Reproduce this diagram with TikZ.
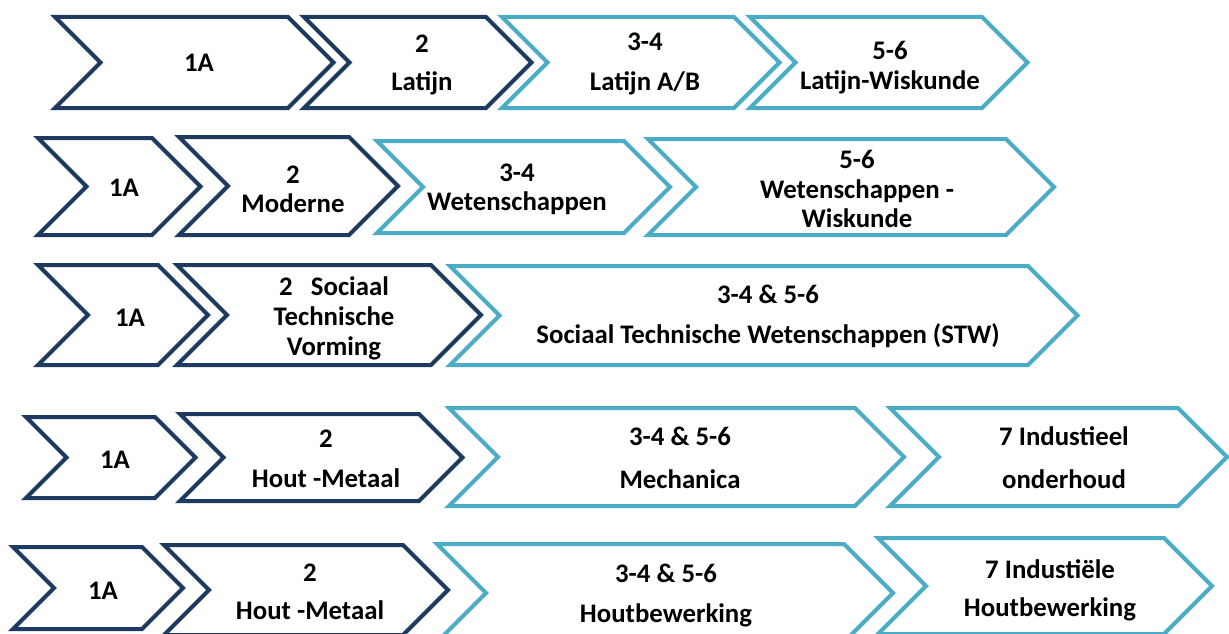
\documentclass[tikz,border=0pt]{standalone}
\usepackage{fontspec}
\setmainfont{Carlito}
\usetikzlibrary{positioning}
\definecolor{navy}{HTML}{1F3A60}
\definecolor{aqua}{HTML}{4BACC6}
% #1 colour, #2 left x, #3 right x, #4 top y, #5 bottom y
\newcommand\chevbox[5]{%
  \pgfmathsetmacro\hh{(#5-#4)/2}%
  \draw[#1,line width=4pt] (#2,#4) -- (#3,#4) -- (#3+\hh,#4+\hh) -- (#3,#5)
     -- (#2,#5) -- (#2+\hh,#4+\hh) -- cycle;}

\begin{document}
\begin{tikzpicture}[x=1pt,y=-1pt,
    lbl/.style={font={\bfseries\fontsize{26.8}{#1}\selectfont},align=center,inner sep=0pt},
    lbl/.default=38]
  \useasboundingbox (0,0) rectangle (1229,634);
  \clip (0,0) rectangle (1229,634);
  % row 1: Latijn
  \chevbox{navy}{55}{288}{17}{108}
  \chevbox{navy}{304}{486}{17}{108}
  \chevbox{aqua}{502}{734}{17}{108}
  \chevbox{aqua}{750}{982}{17}{108}
  \node[lbl] (lat1) at (199,63) {1A};
  \node[lbl] (lat2) at (422,65) {2\\Latijn};
  \node[lbl=40] (lat3) at (645,64) {3-4\\Latijn A/B};
  \node[lbl=30] (lat4) at (890,68) {5-6\\Latijn-Wiskunde};
  % row 2: Moderne
  \chevbox{navy}{38}{152}{138}{235}
  \chevbox{navy}{179}{349}{137}{235}
  \chevbox{aqua}{377}{624}{141}{233}
  \chevbox{aqua}{648}{1006}{139}{235}
  \node[lbl] (mod1) at (124,188) {1A};
  \node[lbl=29] (mod2) at (293,189) {2\\Moderne};
  \node[lbl=29] (mod3) at (517,189) {3-4\\Wetenschappen};
  \node[lbl=29.5] (mod4) at (857,189) {5-6\\Wetenschappen -\\Wiskunde};
  % row 3: STW
  \chevbox{navy}{38}{158}{265}{365}
  \chevbox{navy}{177}{431}{265}{365}
  \chevbox{aqua}{450}{1028}{266}{365}
  \node[lbl] (stw1) at (130,318) {1A};
  \node[lbl=30] (stw2) at (334,318) {2\ \ \ Sociaal\\Technische\\Vorming};
  \node[lbl=40] (stw3) at (768,316) {3-4 \& 5-6\\Sociaal Technische Wetenschappen (STW)};
  % row 4: Mechanica
  \chevbox{navy}{26}{155}{417}{498}
  \chevbox{navy}{180}{419}{414}{501}
  \chevbox{aqua}{449}{855}{408}{506}
  \chevbox{aqua}{890}{1178}{408}{506}
  \node[lbl] (mec1) at (115,460) {1A};
  \node[lbl=40] (mec2) at (326,459) {2\\Hout -Metaal};
  \node[lbl=43] (mec3) at (680,458) {3-4 \& 5-6\\Mechanica};
  \node[lbl=43] (mec4) at (1064,458) {7 Industieel\\onderhoud};
  % row 5: Houtbewerking
  \chevbox{navy}{13}{142}{547}{629}
  \chevbox{navy}{164}{403}{545}{635}
  \chevbox{aqua}{437}{844}{544}{642}
  \chevbox{aqua}{878}{1164}{538}{634}
  \node[lbl] (hou1) at (103,591) {1A};
  \node[lbl] (hou2) at (310,592) {2\\Hout -Metaal};
  \node[lbl=40] (hou3) at (666,596) {3-4 \& 5-6\\Houtbewerking};
  \node[lbl] (hou4) at (1050,590) {7 Industiële\\Houtbewerking};
\end{tikzpicture}
\end{document}
